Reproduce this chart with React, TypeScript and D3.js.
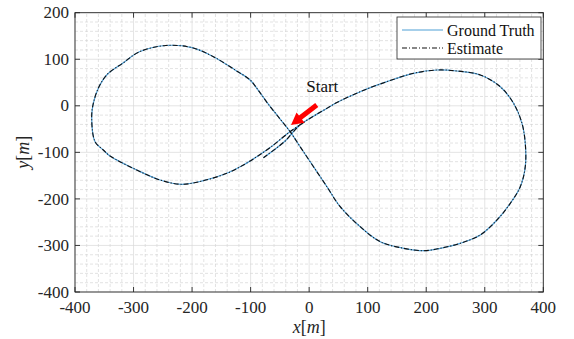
import React from 'react';
import * as d3 from 'd3';

// Axis ticks
const xTicks = [-400, -300, -200, -100, 0, 100, 200, 300, 400];
const yTicks = [-400, -300, -200, -100, 0, 100, 200];

// Figure-eight trajectory [m], in driving order from the start point
const pathX = [
  -78.1, -41.0, -27.4, -15.4, 5.1, 25.6, 47.4, 87.2, 132.8, 178.3, 218.3, 252.5, 292.3, 326.5,
  349.2, 363.6, 369.2, 369.2, 360.7, 343.6, 320.9, 292.3, 258.1, 223.9, 195.4, 161.2, 121.4,
  87.2, 53.0, 30.3, 7.4, -15.4, -32.5, -49.6, -70.1, -87.2, -100.9, -126.5, -163.6, -200.0,
  -245.0, -290.0, -318.0, -345.8, -360.2, -368.7, -371.5, -365.8, -351.6, -340.2, -294.5,
  -254.7, -217.6, -180.7, -140.7, -112.3, -89.4, -66.7, -34.0, -12.0,
];
const pathY = [
  -111.5, -75.6, -56.3, -41.2, -24.1, -9.0, 7.1, 30.3, 51.8, 69.8, 76.9, 74.8, 66.2, 41.0,
  5.4, -37.6, -80.6, -130.8, -173.8, -209.5, -245.3, -277.5, -295.4, -306.1, -311.3, -306.1,
  -291.9, -259.7, -216.8, -173.8, -130.8, -87.9, -55.6, -28.4, 3.9, 33.9, 55.4, 76.9, 105.5,
  125.0, 129.5, 116.0, 92.0, 66.2, 37.6, 5.4, -23.4, -77.1, -95.0, -107.8, -137.9, -159.4,
  -168.6, -160.9, -145.0, -127.2, -109.3, -89.8, -57.0, -38.0,
];

// Start annotation (data coords)
const startLabel = { x: -5, y: 30, text: 'Start' };
const arrowTail = { x: 13, y: 1.5 };
const arrowTip = { x: -31, y: -41 };

const legendItems = ['Ground Truth', 'Estimate'];

const W = 574;
const H = 339;
const FONT = "'Liberation Serif', 'Times New Roman', Times, serif";
const GT_COLOR = '#4f9fd6';
const txt = { fontFamily: FONT };

export default function App() {
  const x = d3.scaleLinear().domain([-400, 400]).range([75, 543.3]);
  const y = d3.scaleLinear().domain([-400, 200]).range([292, 12.7]);
  const [x0, x1] = x.range();
  const [y0, y1] = y.range();

  const minorX = d3.range(-400, 401, 20).filter((v) => v % 100 !== 0);
  const minorY = d3.range(-400, 201, 20).filter((v) => v % 100 !== 0);

  const pts: [number, number][] = pathX.map((v, i) => [v, pathY[i]]);
  const line = d3
    .line<[number, number]>()
    .x((d) => x(d[0]))
    .y((d) => y(d[1]))
    .curve(d3.curveCatmullRom.alpha(0.5));
  const d = line(pts) || '';

  // arrow geometry in pixels
  const tx = x(arrowTail.x), ty = y(arrowTail.y);
  const hx = x(arrowTip.x), hy = y(arrowTip.y);
  const len = Math.hypot(hx - tx, hy - ty);
  const ux = (hx - tx) / len, uy = (hy - ty) / len;
  const nx = -uy, ny = ux;
  const headLen = 12, headW = 6.5, shaftW = 2.5;
  const bx = hx - ux * headLen, by = hy - uy * headLen;
  const arrowPts = [
    [tx + nx * shaftW, ty + ny * shaftW],
    [bx + nx * shaftW, by + ny * shaftW],
    [bx + nx * headW, by + ny * headW],
    [hx, hy],
    [bx - nx * headW, by - ny * headW],
    [bx - nx * shaftW, by - ny * shaftW],
    [tx - nx * shaftW, ty - ny * shaftW],
  ]
    .map((p) => p.join(','))
    .join(' ');

  const lgX = 397, lgY = 17, lgW = 144, lgH = 42;

  return (
    <svg
      width={W}
      height={H}
      style={{ position: 'absolute', left: 0, top: 0, background: '#fff' }}
    >
      <rect x={0} y={0} width={W} height={H} fill="#fff" />
      {/* minor grid */}
      {minorX.map((v) => (
        <line key={'mx' + v} x1={x(v)} x2={x(v)} y1={y0} y2={y1} stroke="#d0d0d0" strokeWidth={0.6} strokeDasharray="3,2" />
      ))}
      {minorY.map((v) => (
        <line key={'my' + v} y1={y(v)} y2={y(v)} x1={x0} x2={x1} stroke="#d0d0d0" strokeWidth={0.6} strokeDasharray="3,2" />
      ))}
      {/* major grid */}
      {xTicks.map((v) => (
        <line key={'gx' + v} x1={x(v)} x2={x(v)} y1={y0} y2={y1} stroke="#d8d8d8" strokeWidth={0.7} />
      ))}
      {yTicks.map((v) => (
        <line key={'gy' + v} y1={y(v)} y2={y(v)} x1={x0} x2={x1} stroke="#d8d8d8" strokeWidth={0.7} />
      ))}

      {/* trajectories */}
      <path d={d} fill="none" stroke={GT_COLOR} strokeWidth={1.2} />
      <path d={d} fill="none" stroke="#111" strokeWidth={1.1} strokeDasharray="5,2,1,2" />

      {/* start marker */}
      <polygon points={arrowPts} fill="#ff0000" />
      <text x={x(startLabel.x)} y={y(startLabel.y)} fontSize={17} fill="#111" style={txt}>
        {startLabel.text}
      </text>

      {/* frame and ticks */}
      <rect x={x0} y={y1} width={x1 - x0} height={y0 - y1} fill="none" stroke="#262626" strokeWidth={0.9} />
      {xTicks.map((v) => (
        <g key={'tx' + v}>
          <line x1={x(v)} x2={x(v)} y1={y0} y2={y0 - 5} stroke="#262626" strokeWidth={0.9} />
          <line x1={x(v)} x2={x(v)} y1={y1} y2={y1 + 5} stroke="#262626" strokeWidth={0.9} />
          <text x={x(v)} y={y0 + 21} fontSize={17} textAnchor="middle" fill="#262626" style={txt}>
            {v}
          </text>
        </g>
      ))}
      {yTicks.map((v) => (
        <g key={'ty' + v}>
          <line x1={x0} x2={x0 + 5} y1={y(v)} y2={y(v)} stroke="#262626" strokeWidth={0.9} />
          <line x1={x1} x2={x1 - 5} y1={y(v)} y2={y(v)} stroke="#262626" strokeWidth={0.9} />
          <text x={x0 - 6} y={y(v)} dy="0.33em" fontSize={17} textAnchor="end" fill="#262626" style={txt}>
            {v}
          </text>
        </g>
      ))}

      {/* axis labels */}
      <text x={(x0 + x1) / 2} y={333} fontSize={18} textAnchor="middle" fill="#262626" style={txt}>
        <tspan fontStyle="italic">x</tspan>[<tspan fontStyle="italic">m</tspan>]
      </text>
      <text
        transform={`translate(29,${(y0 + y1) / 2}) rotate(-90)`}
        fontSize={18}
        textAnchor="middle"
        fill="#262626"
        style={txt}
      >
        <tspan fontStyle="italic">y</tspan>[<tspan fontStyle="italic">m</tspan>]
      </text>

      {/* legend */}
      <rect x={lgX} y={lgY} width={lgW} height={lgH} fill="#fff" stroke="#262626" strokeWidth={0.8} />
      {legendItems.map((name, i) => {
        const cy = lgY + 13 + i * 18;
        return (
          <g key={name}>
            {i === 0 ? (
              <line x1={lgX + 5} x2={lgX + 46} y1={cy} y2={cy} stroke={GT_COLOR} strokeWidth={1.2} />
            ) : (
              <line x1={lgX + 5} x2={lgX + 46} y1={cy} y2={cy} stroke="#111" strokeWidth={1.1} strokeDasharray="5,2,1,2" />
            )}
            <text x={lgX + 50} y={cy} dy="0.35em" fontSize={16} fill="#111" style={txt}>
              {name}
            </text>
          </g>
        );
      })}
    </svg>
  );
}
